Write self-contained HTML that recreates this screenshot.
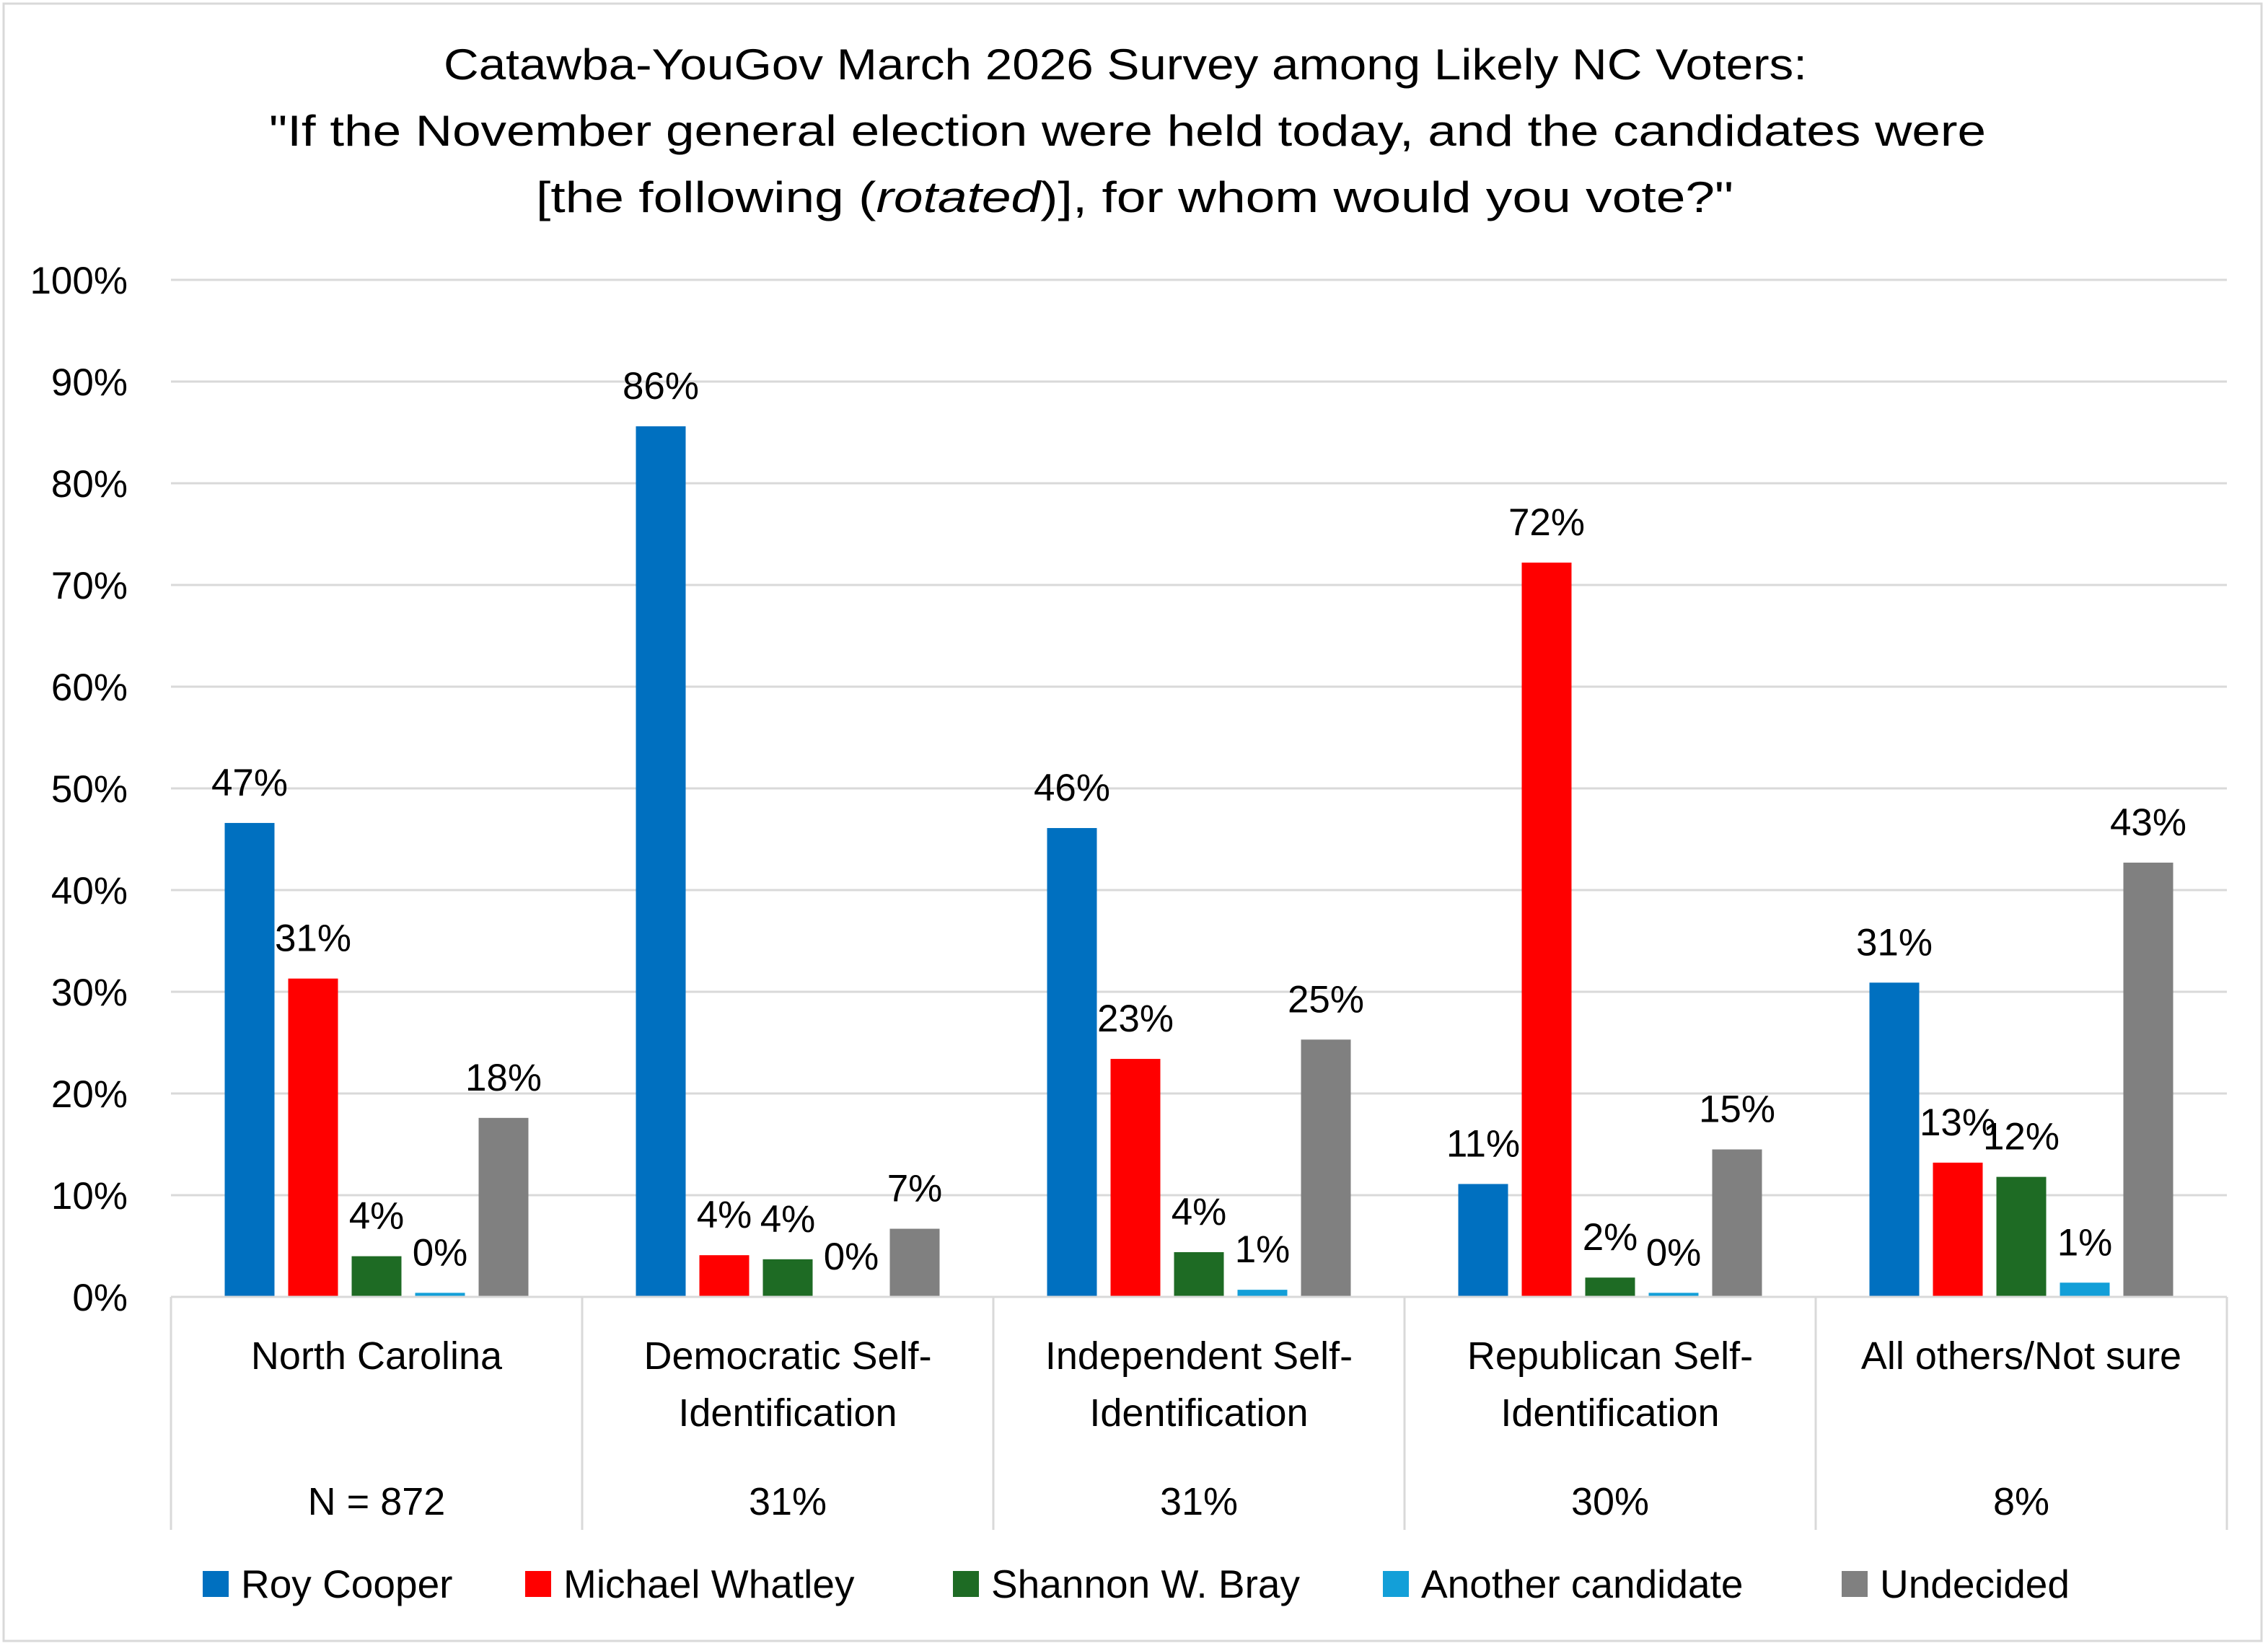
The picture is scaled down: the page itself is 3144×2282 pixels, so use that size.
<!DOCTYPE html>
<html><head><meta charset="utf-8"><style>
html,body{margin:0;padding:0;background:#fff;}
svg{display:block;font-family:"Liberation Sans",sans-serif;}
</style></head><body>
<svg id="chart" width="3144" height="2282" viewBox="0 0 3144 2282" xmlns="http://www.w3.org/2000/svg">
<rect x="5" y="5" width="3130" height="2270" fill="#fff" stroke="#d9d9d9" stroke-width="3"/>
<g font-size="60" text-anchor="middle" fill="#000">
<text x="1560" y="110" textLength="1890" lengthAdjust="spacingAndGlyphs">Catawba-YouGov March 2026 Survey among Likely NC Voters:</text>
<text x="1563" y="202" textLength="2380" lengthAdjust="spacingAndGlyphs">"If the November general election were held today, and the candidates were</text>
<text x="1573" y="294" textLength="1660" lengthAdjust="spacingAndGlyphs">[the following (<tspan font-style="italic">rotated</tspan>)], for whom would you vote?"</text>
</g>
<g id="grid"></g>
<g id="bars"></g>
<g id="labels"></g>
<g id="axis"></g>
<g id="legend"></g>
</svg>
<script>
const categories = ["North Carolina", "Democratic Self-|Identification", "Independent Self-|Identification", "Republican Self-|Identification", "All others/Not sure"];
const subLabels = ["N = 872", "31%", "31%", "30%", "8%"];
const seriesNames = ["Roy Cooper", "Michael Whatley", "Shannon W. Bray", "Another candidate", "Undecided"];
const cooper = [46.6, 85.6, 46.1, 11.1, 30.9];
const whatley = [31.3, 4.1, 23.4, 72.2, 13.2];
const bray = [4.0, 3.7, 4.4, 1.9, 11.8];
const another = [0.4, 0.0, 0.7, 0.4, 1.4];
const undecided = [17.6, 6.7, 25.3, 14.5, 42.7];
const cooperLabels = ["47%", "86%", "46%", "11%", "31%"];
const whatleyLabels = ["31%", "4%", "23%", "72%", "13%"];
const brayLabels = ["4%", "4%", "4%", "2%", "12%"];
const anotherLabels = ["0%", "0%", "1%", "0%", "1%"];
const undecidedLabels = ["18%", "7%", "25%", "15%", "43%"];
const yTicks = [0, 10, 20, 30, 40, 50, 60, 70, 80, 90, 100];

const NS = "http://www.w3.org/2000/svg";
const colors = ["#0070C0", "#FF0000", "#1E6B24", "#139FD8", "#808080"];
const series = [cooper, whatley, bray, another, undecided];
const seriesLabels = [cooperLabels, whatleyLabels, brayLabels, anotherLabels, undecidedLabels];
const X0 = 237, X1 = 3087, Y0 = 1798, Y100 = 388;
const catW = (X1 - X0) / categories.length;
const barW = 69, step = 88;
function y(v){ return Y0 - (Y0 - Y100) * v / 100; }
function xBar(c, s){ return X0 + c * catW + (catW - (step * 4 + barW)) / 2 + s * step; }
function mk(tag, attrs, parent){ const e = document.createElementNS(NS, tag); for (const k in attrs) e.setAttribute(k, attrs[k]); parent.appendChild(e); return e; }

const grid = document.getElementById('grid');
yTicks.forEach(t => {
  if (t > 0) {
    const l = mk('line', {x1: X0, x2: X1, y1: y(t), y2: y(t), stroke: '#d9d9d9', 'stroke-width': 3}, grid);
    
    
  }
  const tx = mk('text', {x: 177, y: y(t) + 19, 'font-size': 53, 'text-anchor': 'end', fill: '#000'}, grid);
  tx.textContent = t + '%';
  
  
});

const bars = document.getElementById('bars');
const labels = document.getElementById('labels');
series.forEach((vals, s) => {
  vals.forEach((v, c) => {
    const bx = xBar(c, s);
    const r = mk('rect', {x: bx, y: y(v), width: barW, height: Y0 - y(v), fill: colors[s]}, bars);
    
    
    const t = mk('text', {x: bx + barW / 2, y: y(v) - 38, 'font-size': 53, 'text-anchor': 'middle', fill: '#000'}, labels);
    t.textContent = seriesLabels[s][c];
    
    
  });
});

const axis = document.getElementById('axis');
const al = mk('line', {x1: X0, x2: X1, y1: Y0, y2: Y0, stroke: '#d9d9d9', 'stroke-width': 3}, axis);


for (let i = 0; i <= categories.length; i++) {
  const xx = X0 + i * catW;
  const d = mk('line', {x1: xx, x2: xx, y1: Y0, y2: 2121, stroke: '#d9d9d9', 'stroke-width': 3}, axis);
  
  
}
categories.forEach((c, i) => {
  const cx = X0 + (i + 0.5) * catW;
  const lines = c.split('|');
  lines.forEach((ln, j) => {
    const t = mk('text', {x: cx, y: 1898 + j * 79, 'font-size': 54, 'text-anchor': 'middle', fill: '#000'}, axis);
    t.textContent = ln;
    
    
  });
  const s = mk('text', {x: cx, y: 2100, 'font-size': 54, 'text-anchor': 'middle', fill: '#000'}, axis);
  s.textContent = subLabels[i];
  
  
});

const legend = document.getElementById('legend');
const legX = [281, 728, 1321, 1917, 2553];
seriesNames.forEach((n, i) => {
  const g = mk('g', {}, legend);
  
  
  const r = mk('rect', {x: legX[i], y: 2178, width: 36, height: 36, fill: colors[i]}, g);
  
  
  const t = mk('text', {x: legX[i] + 53, y: 2215, 'font-size': 55, fill: '#000'}, g);
  t.textContent = n;
  
  
});
</script>
</body></html>
